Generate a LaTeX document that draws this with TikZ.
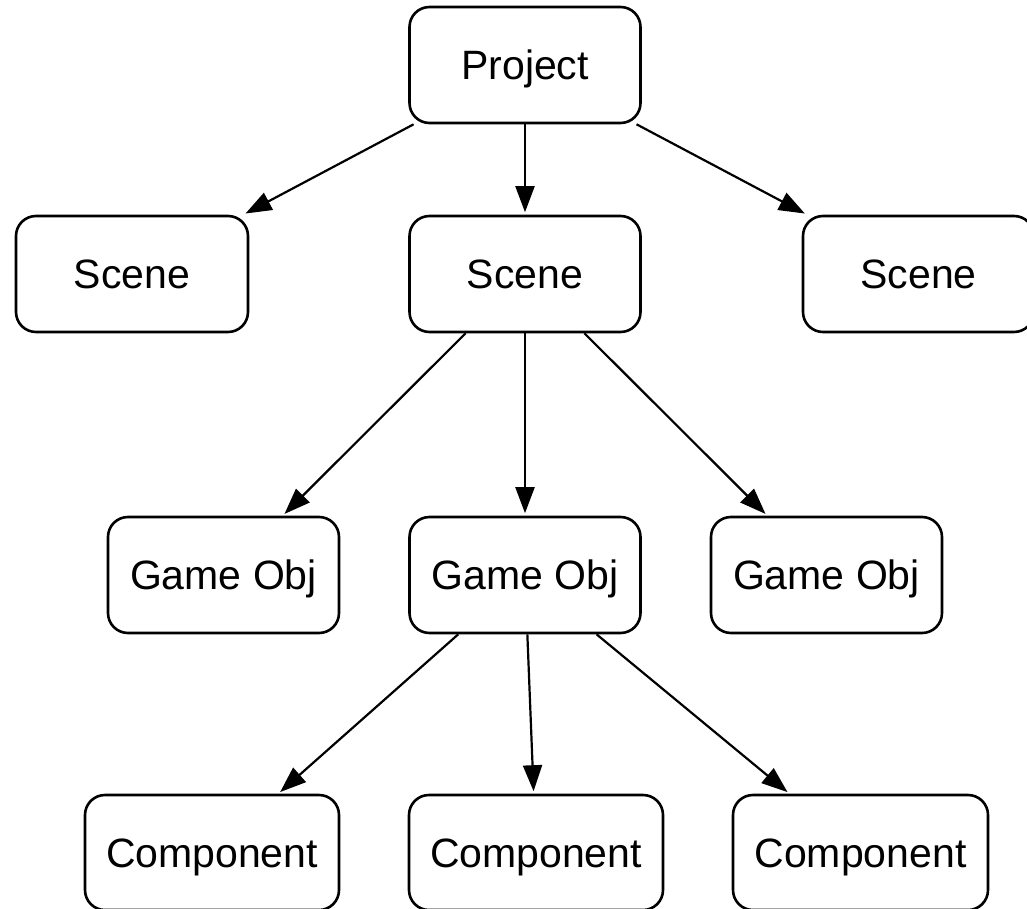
\documentclass[tikz,border=0pt]{standalone}
\usepackage{fontspec}
\setmainfont{Liberation Sans}
\usetikzlibrary{arrows.meta}
\begin{document}
\begin{tikzpicture}[x=1pt,y=-1pt,
  box/.style={draw,line width=2.6pt,rounded corners=20pt,inner sep=0pt,
    minimum height=116pt,text height=29.5pt,text depth=0pt,
    font=\fontsize{41}{49}\selectfont},
  arr/.style={line width=2.2pt,shorten >=2.5pt,-{Triangle[length=26pt,width=19pt]}}]
\useasboundingbox (0,0) rectangle (1027,909);
\clip (0,0) rectangle (1027,909);
\node[box,minimum width=231pt] (proj) at (525,65) {Project};
\node[box,minimum width=232pt] (sl) at (132,274) {Scene};
\node[box,minimum width=231pt] (sm) at (525,274) {Scene};
\node[box,minimum width=231pt] (sr) at (918.5,274) {Scene};
\node[box,minimum width=231pt] (gl) at (223.5,575) {Game Obj};
\node[box,minimum width=231pt] (gm) at (525,575) {Game Obj};
\node[box,minimum width=231pt] (gr) at (826.5,575) {Game Obj};
\node[box,minimum width=254pt,minimum height=115pt] (cl) at (212,852.5) {Component};
\node[box,minimum width=254pt,minimum height=115pt] (cm) at (536,852.5) {Component};
\node[box,minimum width=255pt,minimum height=115pt] (cr) at (860.5,852.5) {Component};
\draw[arr] (proj) -- (sl);
\draw[arr] (proj) -- (sm);
\draw[arr] (proj) -- (sr);
\draw[arr] (sm) -- (gl);
\draw[arr] (sm) -- (gm);
\draw[arr] (sm) -- (gr);
\draw[arr] (gm) -- (cl);
\draw[arr] (gm) -- (cm);
\draw[arr] (gm) -- (cr);
\end{tikzpicture}
\end{document}
